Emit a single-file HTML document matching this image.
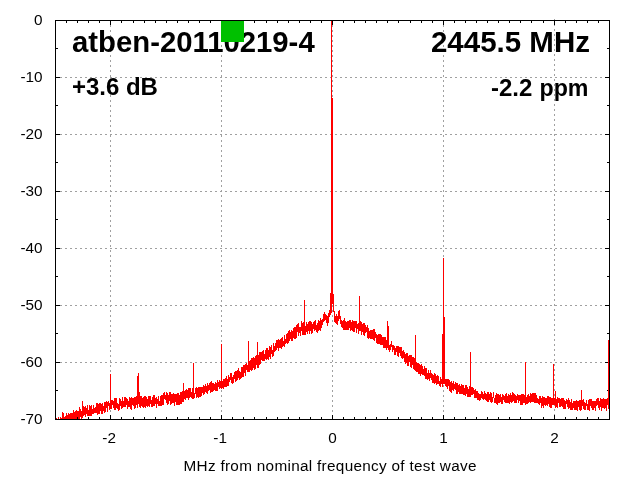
<!DOCTYPE html>
<html lang="en"><head><meta charset="utf-8"><title>atben-20110219-4</title>
<style>
html,body{margin:0;padding:0;background:#fff;}
body{width:640px;height:480px;overflow:hidden;}
svg{display:block;position:absolute;left:0;top:0;}
text{font-family:"Liberation Sans",sans-serif;fill:#000;}
.b{font-weight:bold;}
</style></head><body>
<svg width="640" height="480" viewBox="0 0 640 480">
<rect width="640" height="480" fill="#fff"/>
<g stroke="#a0a0a0" stroke-width="1" stroke-dasharray="2 3" fill="none" shape-rendering="crispEdges">
<path d="M60 77.5H609"/><path d="M60 134.5H609"/><path d="M60 191.5H609"/><path d="M60 248.5H609"/><path d="M60 305.5H609"/><path d="M60 362.5H609"/>
<path d="M110.5 20V419"/><path d="M221.5 20V419"/><path d="M332.5 20V419"/><path d="M443.5 20V419"/><path d="M554.5 19V419"/>
</g>
<g fill="#000" shape-rendering="crispEdges">
<rect x="55" y="20" width="5" height="1"/><rect x="605" y="20" width="5" height="1"/><rect x="55" y="48" width="3" height="1"/><rect x="607" y="48" width="3" height="1"/><rect x="55" y="77" width="5" height="1"/><rect x="605" y="77" width="5" height="1"/><rect x="55" y="105" width="3" height="1"/><rect x="607" y="105" width="3" height="1"/><rect x="55" y="134" width="5" height="1"/><rect x="605" y="134" width="5" height="1"/><rect x="55" y="162" width="3" height="1"/><rect x="607" y="162" width="3" height="1"/><rect x="55" y="191" width="5" height="1"/><rect x="605" y="191" width="5" height="1"/><rect x="55" y="219" width="3" height="1"/><rect x="607" y="219" width="3" height="1"/><rect x="55" y="248" width="5" height="1"/><rect x="605" y="248" width="5" height="1"/><rect x="55" y="276" width="3" height="1"/><rect x="607" y="276" width="3" height="1"/><rect x="55" y="305" width="5" height="1"/><rect x="605" y="305" width="5" height="1"/><rect x="55" y="333" width="3" height="1"/><rect x="607" y="333" width="3" height="1"/><rect x="55" y="362" width="5" height="1"/><rect x="605" y="362" width="5" height="1"/><rect x="55" y="390" width="3" height="1"/><rect x="607" y="390" width="3" height="1"/><rect x="55" y="419" width="5" height="1"/><rect x="605" y="419" width="5" height="1"/>
<rect x="55" y="417" width="1" height="3"/><rect x="55" y="20" width="1" height="3"/><rect x="66" y="417" width="1" height="3"/><rect x="66" y="20" width="1" height="3"/><rect x="77" y="417" width="1" height="3"/><rect x="77" y="20" width="1" height="3"/><rect x="88" y="417" width="1" height="3"/><rect x="88" y="20" width="1" height="3"/><rect x="99" y="417" width="1" height="3"/><rect x="99" y="20" width="1" height="3"/><rect x="110" y="415" width="1" height="5"/><rect x="110" y="20" width="1" height="5"/><rect x="121" y="417" width="1" height="3"/><rect x="121" y="20" width="1" height="3"/><rect x="133" y="417" width="1" height="3"/><rect x="133" y="20" width="1" height="3"/><rect x="144" y="417" width="1" height="3"/><rect x="144" y="20" width="1" height="3"/><rect x="155" y="417" width="1" height="3"/><rect x="155" y="20" width="1" height="3"/><rect x="166" y="417" width="1" height="3"/><rect x="166" y="20" width="1" height="3"/><rect x="177" y="417" width="1" height="3"/><rect x="177" y="20" width="1" height="3"/><rect x="188" y="417" width="1" height="3"/><rect x="188" y="20" width="1" height="3"/><rect x="199" y="417" width="1" height="3"/><rect x="199" y="20" width="1" height="3"/><rect x="210" y="417" width="1" height="3"/><rect x="210" y="20" width="1" height="3"/><rect x="221" y="415" width="1" height="5"/><rect x="221" y="20" width="1" height="5"/><rect x="232" y="417" width="1" height="3"/><rect x="232" y="20" width="1" height="3"/><rect x="243" y="417" width="1" height="3"/><rect x="243" y="20" width="1" height="3"/><rect x="254" y="417" width="1" height="3"/><rect x="254" y="20" width="1" height="3"/><rect x="266" y="417" width="1" height="3"/><rect x="266" y="20" width="1" height="3"/><rect x="277" y="417" width="1" height="3"/><rect x="277" y="20" width="1" height="3"/><rect x="288" y="417" width="1" height="3"/><rect x="288" y="20" width="1" height="3"/><rect x="299" y="417" width="1" height="3"/><rect x="299" y="20" width="1" height="3"/><rect x="310" y="417" width="1" height="3"/><rect x="310" y="20" width="1" height="3"/><rect x="321" y="417" width="1" height="3"/><rect x="321" y="20" width="1" height="3"/><rect x="332" y="415" width="1" height="5"/><rect x="332" y="20" width="1" height="5"/><rect x="343" y="417" width="1" height="3"/><rect x="343" y="20" width="1" height="3"/><rect x="354" y="417" width="1" height="3"/><rect x="354" y="20" width="1" height="3"/><rect x="365" y="417" width="1" height="3"/><rect x="365" y="20" width="1" height="3"/><rect x="376" y="417" width="1" height="3"/><rect x="376" y="20" width="1" height="3"/><rect x="387" y="417" width="1" height="3"/><rect x="387" y="20" width="1" height="3"/><rect x="398" y="417" width="1" height="3"/><rect x="398" y="20" width="1" height="3"/><rect x="410" y="417" width="1" height="3"/><rect x="410" y="20" width="1" height="3"/><rect x="421" y="417" width="1" height="3"/><rect x="421" y="20" width="1" height="3"/><rect x="432" y="417" width="1" height="3"/><rect x="432" y="20" width="1" height="3"/><rect x="443" y="415" width="1" height="5"/><rect x="443" y="20" width="1" height="5"/><rect x="454" y="417" width="1" height="3"/><rect x="454" y="20" width="1" height="3"/><rect x="465" y="417" width="1" height="3"/><rect x="465" y="20" width="1" height="3"/><rect x="476" y="417" width="1" height="3"/><rect x="476" y="20" width="1" height="3"/><rect x="487" y="417" width="1" height="3"/><rect x="487" y="20" width="1" height="3"/><rect x="498" y="417" width="1" height="3"/><rect x="498" y="20" width="1" height="3"/><rect x="509" y="417" width="1" height="3"/><rect x="509" y="20" width="1" height="3"/><rect x="520" y="417" width="1" height="3"/><rect x="520" y="20" width="1" height="3"/><rect x="531" y="417" width="1" height="3"/><rect x="531" y="20" width="1" height="3"/><rect x="543" y="417" width="1" height="3"/><rect x="543" y="20" width="1" height="3"/><rect x="554" y="415" width="1" height="5"/><rect x="554" y="20" width="1" height="5"/><rect x="565" y="417" width="1" height="3"/><rect x="565" y="20" width="1" height="3"/><rect x="576" y="417" width="1" height="3"/><rect x="576" y="20" width="1" height="3"/><rect x="587" y="417" width="1" height="3"/><rect x="587" y="20" width="1" height="3"/><rect x="598" y="417" width="1" height="3"/><rect x="598" y="20" width="1" height="3"/><rect x="609" y="417" width="1" height="3"/><rect x="609" y="20" width="1" height="3"/>
</g>
<path d="M56.5 418V419M58.5 417V419M60.5 417V419M61.5 418V419M62.5 412V419M63.5 413V419M64.5 417V419M65.5 416V419M66.5 413V419M67.5 415V419M68.5 413V419M69.5 414V419M70.5 413V419M71.5 413V419M72.5 413V419M73.5 410V419M74.5 412V419M75.5 411V419M76.5 410V419M77.5 411V417M78.5 411V419M79.5 407V419M80.5 409V417M81.5 411V419M82.5 401V418M83.5 406V416M84.5 407V415M85.5 406V417M86.5 408V414M87.5 405V416M88.5 410V416M89.5 405V416M90.5 406V416M91.5 405V416M92.5 409V414M93.5 405V414M94.5 408V413M95.5 407V413M96.5 403V413M97.5 403V415M98.5 404V414M99.5 403V414M100.5 403V411M101.5 404V414M102.5 403V414M103.5 406V411M104.5 402V413M105.5 402V412M106.5 401V408M107.5 402V412M108.5 401V406M109.5 403V410M110.5 374V409M111.5 400V409M112.5 400V405M113.5 401V408M114.5 398V410M115.5 398V410M116.5 398V408M117.5 403V409M118.5 404V411M119.5 398V410M120.5 399V406M121.5 401V409M122.5 397V408M123.5 401V407M124.5 397V407M125.5 397V407M126.5 398V405M127.5 399V409M128.5 401V407M129.5 397V407M130.5 398V409M131.5 397V410M132.5 398V405M133.5 398V406M134.5 397V409M135.5 397V408M136.5 396V405M137.5 376V408M138.5 373V404M139.5 392V407M140.5 396V408M141.5 396V406M142.5 398V407M143.5 397V408M144.5 396V407M145.5 396V408M146.5 397V406M147.5 399V407M148.5 396V406M149.5 396V407M150.5 396V404M151.5 400V407M152.5 397V407M153.5 395V406M154.5 395V406M155.5 398V404M156.5 397V408M157.5 399V404M158.5 396V406M159.5 401V406M160.5 396V406M161.5 395V406M162.5 395V405M163.5 393V405M164.5 392V399M165.5 395V400M166.5 392V403M167.5 393V405M168.5 395V404M169.5 392V401M170.5 392V405M171.5 394V404M172.5 394V403M173.5 393V403M174.5 394V406M175.5 394V402M176.5 394V405M177.5 393V405M178.5 393V405M179.5 395V405M180.5 392V404M181.5 392V404M182.5 391V402M183.5 383V402M184.5 391V399M185.5 390V400M186.5 389V398M187.5 390V398M188.5 388V400M189.5 388V398M190.5 388V397M191.5 392V398M192.5 388V399M193.5 363V399M194.5 393V398M195.5 388V394M196.5 387V398M197.5 388V397M198.5 387V398M199.5 387V397M200.5 387V397M201.5 387V396M202.5 387V393M203.5 385V395M204.5 386V394M205.5 384V392M206.5 386V393M207.5 383V394M208.5 385V391M209.5 383V390M210.5 382V393M211.5 381V392M212.5 383V392M213.5 383V391M214.5 384V390M215.5 382V391M216.5 383V391M217.5 380V391M218.5 382V387M219.5 380V389M220.5 381V388M221.5 344V389M222.5 381V388M223.5 379V389M224.5 379V387M225.5 378V387M226.5 376V387M227.5 379V386M228.5 375V386M229.5 377V382M230.5 373V380M231.5 373V383M232.5 377V384M233.5 375V383M234.5 372V379M235.5 371V382M236.5 371V381M237.5 370V380M238.5 368V378M239.5 371V380M240.5 372V379M241.5 367V378M242.5 367V377M243.5 365V377M244.5 365V373M245.5 364V376M246.5 363V370M247.5 365V372M248.5 341V372M249.5 361V372M250.5 360V370M251.5 358V371M252.5 358V370M253.5 357V368M254.5 358V370M255.5 356V369M256.5 355V365M257.5 342V368M258.5 355V368M259.5 352V365M260.5 352V364M261.5 352V360M262.5 351V361M263.5 350V361M264.5 354V361M265.5 350V359M266.5 348V360M267.5 348V359M268.5 350V360M269.5 346V357M270.5 347V359M271.5 345V354M272.5 350V357M273.5 343V356M274.5 346V352M275.5 343V351M276.5 340V350M277.5 340V348M278.5 339V351M279.5 340V348M280.5 339V348M281.5 338V349M282.5 337V347M283.5 341V346M284.5 335V347M285.5 339V344M286.5 334V343M287.5 333V344M288.5 331V343M289.5 330V341M290.5 332V339M291.5 330V341M292.5 331V341M293.5 328V338M294.5 327V339M295.5 327V339M296.5 325V338M297.5 324V332M298.5 323V336M299.5 327V333M300.5 327V336M301.5 321V331M302.5 323V335M303.5 322V335M304.5 300V335M305.5 326V335M306.5 322V332M307.5 324V334M308.5 322V331M309.5 321V334M310.5 321V331M311.5 322V334M312.5 324V333M313.5 322V329M314.5 321V331M315.5 320V330M316.5 325V332M317.5 323V333M318.5 320V331M319.5 321V330M320.5 318V331M321.5 320V328M322.5 319V325M323.5 314V322M324.5 312V321M325.5 314V320M326.5 315V323M327.5 316V326M328.5 313V323M329.5 310V317M330.5 293V315M331.5 21V313M332.5 98V304M333.5 294V312M334.5 311V322M335.5 316V323M336.5 314V324M337.5 316V325M338.5 311V321M339.5 310V319M340.5 316V324M341.5 320V327M342.5 321V328M343.5 320V330M344.5 318V330M345.5 321V330M346.5 322V330M347.5 321V330M348.5 321V330M349.5 320V328M350.5 320V331M351.5 322V330M352.5 320V331M353.5 321V332M354.5 321V332M355.5 321V328M356.5 321V333M357.5 324V329M358.5 323V334M359.5 296V331M360.5 321V331M361.5 322V335M362.5 324V332M363.5 323V335M364.5 323V336M365.5 325V333M366.5 327V332M367.5 325V338M368.5 328V339M369.5 331V338M370.5 330V339M371.5 330V339M372.5 330V339M373.5 329V340M374.5 329V341M375.5 332V338M376.5 334V343M377.5 335V344M378.5 334V344M379.5 334V344M380.5 334V345M381.5 335V345M382.5 337V345M383.5 337V348M384.5 337V348M385.5 337V348M386.5 340V350M387.5 321V348M388.5 326V350M389.5 345V352M390.5 344V350M391.5 341V347M392.5 345V352M393.5 345V350M394.5 346V355M395.5 348V355M396.5 346V352M397.5 346V356M398.5 346V357M399.5 347V353M400.5 347V356M401.5 347V358M402.5 351V359M403.5 350V358M404.5 352V362M405.5 354V364M406.5 353V363M407.5 353V366M408.5 356V366M409.5 355V362M410.5 355V367M411.5 355V368M412.5 357V365M413.5 357V369M414.5 358V370M415.5 335V371M416.5 362V372M417.5 363V372M418.5 363V374M419.5 364V374M420.5 365V376M421.5 364V374M422.5 366V375M423.5 369V375M424.5 366V376M425.5 368V379M426.5 368V379M427.5 373V380M428.5 370V379M429.5 373V381M430.5 370V378M431.5 373V380M432.5 374V383M433.5 375V383M434.5 373V384M435.5 374V383M436.5 376V385M437.5 375V384M438.5 376V384M439.5 381V386M440.5 377V387M441.5 379V384M442.5 334V387M443.5 258V384M444.5 317V384M445.5 379V386M446.5 379V387M447.5 379V389M448.5 379V386M449.5 380V391M450.5 382V392M451.5 381V393M452.5 383V390M453.5 381V391M454.5 384V389M455.5 382V390M456.5 383V394M457.5 383V394M458.5 385V392M459.5 384V394M460.5 386V394M461.5 384V394M462.5 385V394M463.5 385V395M464.5 388V395M465.5 385V396M466.5 385V394M467.5 387V397M468.5 389V397M469.5 386V397M470.5 352V397M471.5 387V395M472.5 387V395M473.5 388V394M474.5 390V398M475.5 389V398M476.5 391V398M477.5 391V400M478.5 393V400M479.5 394V401M480.5 394V400M481.5 391V398M482.5 392V399M483.5 394V400M484.5 391V399M485.5 393V400M486.5 394V401M487.5 392V402M488.5 392V402M489.5 394V400M490.5 392V402M491.5 393V403M492.5 397V402M493.5 392V398M494.5 398V403M495.5 395V403M496.5 393V404M497.5 394V405M498.5 394V403M499.5 395V403M500.5 394V402M501.5 397V404M502.5 394V404M503.5 395V400M504.5 396V402M505.5 394V403M506.5 393V403M507.5 396V403M508.5 394V403M509.5 395V404M510.5 393V402M511.5 395V403M512.5 392V402M513.5 393V401M514.5 394V403M515.5 395V403M516.5 396V403M517.5 394V400M518.5 395V403M519.5 395V401M520.5 395V405M521.5 394V405M522.5 394V405M523.5 394V403M524.5 395V403M525.5 362V405M526.5 397V404M527.5 395V404M528.5 394V403M529.5 396V402M530.5 393V403M531.5 394V402M532.5 393V402M533.5 393V402M534.5 393V403M535.5 393V403M536.5 395V403M537.5 398V403M538.5 399V404M539.5 396V405M540.5 396V403M541.5 398V408M542.5 396V406M543.5 397V408M544.5 397V405M545.5 398V406M546.5 398V405M547.5 396V406M548.5 396V404M549.5 397V407M550.5 397V408M551.5 398V408M552.5 398V405M553.5 364V405M554.5 398V405M555.5 391V408M556.5 399V407M557.5 397V408M558.5 398V403M559.5 398V407M560.5 399V407M561.5 398V406M562.5 398V407M563.5 398V409M564.5 400V409M565.5 401V409M566.5 399V404M567.5 400V407M568.5 398V409M569.5 400V408M570.5 402V410M571.5 399V410M572.5 403V410M573.5 401V408M574.5 401V410M575.5 401V410M576.5 400V410M577.5 401V411M578.5 401V407M579.5 400V410M580.5 400V411M581.5 390V410M582.5 400V406M583.5 399V409M584.5 402V410M585.5 403V410M586.5 400V406M587.5 404V410M588.5 400V410M589.5 399V411M590.5 399V406M591.5 399V408M592.5 401V410M593.5 401V410M594.5 401V408M595.5 401V411M596.5 399V406M597.5 398V405M598.5 398V408M599.5 401V410M600.5 398V407M601.5 399V411M602.5 399V408M603.5 398V408M604.5 399V409M605.5 399V408M606.5 399V411M607.5 398V405M608.5 340V409" stroke="#ff0000" stroke-width="1" fill="none" shape-rendering="crispEdges"/>
<g fill="#000" shape-rendering="crispEdges"><rect x="55" y="20" width="555" height="1"/><rect x="55" y="419" width="555" height="1"/><rect x="55" y="20" width="1" height="400"/><rect x="609" y="20" width="1" height="400"/></g>
<g font-size="15.3px" text-anchor="end">
<text x="42.6" y="24.9">0</text><text x="42.6" y="81.9">-10</text><text x="42.6" y="138.9">-20</text><text x="42.6" y="195.9">-30</text><text x="42.6" y="252.9">-40</text><text x="42.6" y="309.9">-50</text><text x="42.6" y="366.9">-60</text><text x="42.6" y="423.9">-70</text>
</g>
<g font-size="15.3px" text-anchor="middle">
<text x="109.1" y="442.8">-2</text><text x="220.1" y="442.8">-1</text><text x="332.6" y="442.8">0</text><text x="443.6" y="442.8">1</text><text x="554.6" y="442.8">2</text>
<text x="330" y="471" font-size="15.3px" textLength="293" lengthAdjust="spacing">MHz from nominal frequency of test wave</text>
</g>
<g class="b">
<text x="72" y="52" font-size="29.3px">atben-20110219-4</text>
<text x="590" y="52" font-size="29.5px" text-anchor="end">2445.5 MHz</text>
<text x="71.9" y="95.3" font-size="24px">+3.6 dB</text>
<text y="95.6" font-size="24px"><tspan x="491">-2.2</tspan> <tspan x="588.5" text-anchor="end" font-size="23.2px">ppm</tspan></text>
</g>
<rect x="221" y="21" width="23" height="21" fill="#00c000" shape-rendering="crispEdges"/>
</svg>
</body></html>
